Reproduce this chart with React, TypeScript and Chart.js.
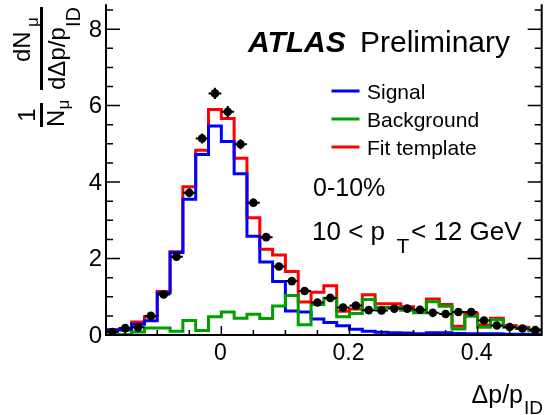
import React, { useEffect, useRef } from "react";
import { Chart, registerables } from "chart.js";

Chart.register(...registerables);

// ---------- data ----------
const binCenters = [
  -0.17, -0.15, -0.13, -0.11, -0.09, -0.07, -0.05, -0.03, -0.01, 0.01, 0.03, 0.05,
  0.07, 0.09, 0.11, 0.13, 0.15, 0.17, 0.19, 0.21, 0.23, 0.25, 0.27, 0.29, 0.31,
  0.33, 0.35, 0.37, 0.39, 0.41, 0.43, 0.45, 0.47, 0.49,
];
const binWidth = 0.02;

const signal = [
  0.13, 0.13, 0.28, 0.37, 1.1, 2.16, 3.55, 4.72, 5.47, 5.06, 4.22, 2.58, 1.91, 1.4,
  0.63, 0.6, 0.42, 0.33, 0.24, 0.15, 0.1, 0.07, 0.06, 0.05, 0.03, 0.06, 0.06, 0.04,
  0.03, 0.03, 0.03, 0.02, 0.02, 0.02,
];
const background = [
  0.0, 0.01, 0.08, 0.18, 0.18, 0.1, 0.38, 0.12, 0.48, 0.6, 0.44, 0.54, 0.43, 0.76,
  1.03, 0.27, 0.8, 0.96, 0.48, 0.56, 0.93, 0.72, 0.72, 0.65, 0.58, 0.87, 0.75, 0.16,
  0.49, 0.2, 0.4, 0.2, 0.17, 0.11,
];
const fitTemplate = [
  0.14, 0.15, 0.34, 0.48, 1.14, 2.18, 3.88, 4.83, 5.9, 5.66, 4.62, 3.07, 2.24, 2.09,
  1.66, 0.86, 1.12, 1.29, 0.62, 0.68, 1.05, 0.82, 0.82, 0.74, 0.64, 0.94, 0.8, 0.23,
  0.55, 0.26, 0.44, 0.25, 0.2, 0.14,
];
const dataValues = [
  0.08, 0.18, 0.2, 0.5, 1.06, 2.05, 3.72, 5.14, 6.32, 5.84, 4.99, 3.46, 2.56, 1.79,
  1.41, 1.15, 0.85, 0.97, 0.72, 0.77, 0.65, 0.64, 0.69, 0.69, 0.66, 0.58, 0.55, 0.6,
  0.6, 0.38, 0.25, 0.21, 0.17, 0.13,
];
const dataErrors = [
  0.03, 0.04, 0.05, 0.06, 0.08, 0.1, 0.12, 0.13, 0.15, 0.15, 0.13, 0.11, 0.1, 0.08,
  0.07, 0.07, 0.06, 0.06, 0.05, 0.05, 0.05, 0.05, 0.05, 0.05, 0.05, 0.05, 0.05, 0.05,
  0.05, 0.04, 0.04, 0.04, 0.04, 0.04,
];

const xMajorTicks = [0, 0.2, 0.4];
const xTickLabels = ["0", "0.2", "0.4"];
const xMinorTicks = [-0.15, -0.1, -0.05, 0.05, 0.1, 0.15, 0.25, 0.3, 0.35, 0.45];
const yMajorTicks = [0, 2, 4, 6, 8];
const yTickLabels = ["0", "2", "4", "6", "8"];
const yMinorTicks = [0.5, 1, 1.5, 2.5, 3, 3.5, 4.5, 5, 5.5, 6.5, 7, 7.5, 8.5];

const legendItems = [
  { label: "Signal", color: "#0000ff" },
  { label: "Background", color: "#00a000" },
  { label: "Fit template", color: "#ff0000" },
];

const FONT = '"Liberation Sans", Arial, Helvetica, sans-serif';

function stepPoints(values: number[]) {
  const pts = binCenters.map((c, i) => ({ x: c - binWidth / 2, y: values[i] }));
  const last = binCenters.length - 1;
  pts.push({ x: binCenters[last] + binWidth / 2, y: values[last] });
  return pts;
}

const decorPlugin = {
  id: "decor",
  afterDatasetsDraw(chart: any) {
    const ctx: CanvasRenderingContext2D = chart.ctx;
    const xs = chart.scales.x;
    const ys = chart.scales.y;
    // error bars
    ctx.save();
    ctx.strokeStyle = "#000";
    ctx.lineWidth = 2;
    binCenters.forEach((c, i) => {
      const px = xs.getPixelForValue(c);
      const py = ys.getPixelForValue(dataValues[i]);
      const pl = xs.getPixelForValue(c - binWidth / 2);
      const pr = xs.getPixelForValue(c + binWidth / 2);
      const pt = ys.getPixelForValue(dataValues[i] + dataErrors[i]);
      const pb = ys.getPixelForValue(dataValues[i] - dataErrors[i]);
      ctx.beginPath();
      ctx.moveTo(pl, py);
      ctx.lineTo(pr, py);
      ctx.moveTo(px, pt);
      ctx.lineTo(px, pb);
      ctx.stroke();
    });
    ctx.restore();
  },
  afterDraw(chart: any) {
    const ctx: CanvasRenderingContext2D = chart.ctx;
    const xs = chart.scales.x;
    const ys = chart.scales.y;
    const a = chart.chartArea;
    ctx.save();
    ctx.strokeStyle = "#000";
    ctx.fillStyle = "#000";
    // frame
    ctx.lineWidth = 2;
    ctx.beginPath();
    ctx.moveTo(a.left, a.top);
    ctx.lineTo(a.left, a.bottom);
    ctx.lineTo(a.right, a.bottom);
    ctx.lineTo(a.right, a.top);
    ctx.stroke();
    // ticks
    ctx.lineWidth = 1.5;
    ctx.beginPath();
    yMajorTicks.forEach((v) => {
      const p = ys.getPixelForValue(v);
      ctx.moveTo(a.left, p);
      ctx.lineTo(a.left + 14, p);
      ctx.moveTo(a.right, p);
      ctx.lineTo(a.right - 14, p);
    });
    yMinorTicks.forEach((v) => {
      const p = ys.getPixelForValue(v);
      ctx.moveTo(a.left, p);
      ctx.lineTo(a.left + 7, p);
      ctx.moveTo(a.right, p);
      ctx.lineTo(a.right - 7, p);
    });
    xMajorTicks.forEach((v) => {
      const p = xs.getPixelForValue(v);
      ctx.moveTo(p, a.bottom);
      ctx.lineTo(p, a.bottom - 9);
    });
    xMinorTicks.forEach((v) => {
      const p = xs.getPixelForValue(v);
      ctx.moveTo(p, a.bottom);
      ctx.lineTo(p, a.bottom - 5);
    });
    ctx.stroke();

    // tick labels
    ctx.font = `24px ${FONT}`;
    ctx.textAlign = "right";
    ctx.textBaseline = "middle";
    yMajorTicks.forEach((v, i) => {
      ctx.fillText(yTickLabels[i], a.left - 4, ys.getPixelForValue(v) + 1);
    });
    ctx.font = `23px ${FONT}`;
    ctx.textAlign = "center";
    ctx.textBaseline = "alphabetic";
    xMajorTicks.forEach((v, i) => {
      ctx.fillText(xTickLabels[i], xs.getPixelForValue(v) - 1, 360);
    });

    // x title
    ctx.textAlign = "right";
    ctx.font = `25px ${FONT}`;
    ctx.fillText("\u0394p/p", 523, 403);
    ctx.textAlign = "left";
    ctx.font = `19px ${FONT}`;
    ctx.fillText("ID", 524, 414);

    // y title (rotated)
    ctx.save();
    ctx.translate(41.5, 128);
    ctx.rotate(-Math.PI / 2);
    ctx.lineWidth = 3;
    ctx.beginPath();
    ctx.moveTo(1, 0);
    ctx.lineTo(25, 0);
    ctx.moveTo(38, 0);
    ctx.lineTo(121, 0);
    ctx.stroke();
    ctx.font = `24px ${FONT}`;
    ctx.textAlign = "center";
    ctx.fillText("1", 13, -7);
    ctx.textAlign = "left";
    ctx.fillText("N", 1, 22.5);
    ctx.fillText("dN", 66, -12);
    ctx.fillText("d\u0394p/p", 38, 23);
    ctx.font = `17px ${FONT}`;
    ctx.fillText("\u03bc", 18.5, 27);
    ctx.fillText("\u03bc", 101, -4);
    ctx.font = `20px ${FONT}`;
    ctx.fillText("ID", 101, 38.5);
    ctx.restore();

    // ATLAS Preliminary
    ctx.textAlign = "left";
    ctx.font = `italic bold 30px ${FONT}`;
    ctx.fillText("ATLAS", 248, 52);
    ctx.font = `30px ${FONT}`;
    ctx.fillText("Preliminary", 360, 52);

    // legend
    legendItems.forEach((it, i) => {
      const yLine = 91 + i * 28;
      ctx.strokeStyle = it.color;
      ctx.lineWidth = 3;
      ctx.beginPath();
      ctx.moveTo(331.5, yLine);
      ctx.lineTo(359.5, yLine);
      ctx.stroke();
      ctx.fillStyle = "#000";
      ctx.font = `21px ${FONT}`;
      ctx.fillText(it.label, 367, yLine + 7.5);
    });

    // labels
    ctx.font = `25px ${FONT}`;
    ctx.fillText("0-10%", 313, 196);
    ctx.font = `26px ${FONT}`;
    ctx.fillText("10 < p", 312, 239.5);
    ctx.fillText("< 12 GeV", 411, 239.5);
    ctx.font = `21px ${FONT}`;
    ctx.fillText("T", 396.5, 253);

    ctx.restore();
  },
};

export default function App() {
  const ref = useRef<HTMLCanvasElement>(null);
  useEffect(() => {
    document.body.style.margin = "0";
    const histo = (label: string, values: number[], color: string, order: number) => ({
      label,
      data: stepPoints(values),
      borderColor: color,
      backgroundColor: color,
      borderWidth: 3,
      stepped: true,
      pointRadius: 0,
      fill: false,
      borderJoinStyle: "miter",
      borderCapStyle: "butt",
      order,
    });
    const chart = new Chart(ref.current as HTMLCanvasElement, {
      type: "line",
      data: {
        datasets: [
          {
            label: "Data",
            data: binCenters.map((x, i) => ({ x, y: dataValues[i] })),
            showLine: false,
            pointRadius: 4.3,
            pointBackgroundColor: "#000",
            pointBorderWidth: 0,
            borderColor: "#000",
            order: 0,
          } as any,
          histo("Background", background, "#00a000", 1),
          histo("Signal", signal, "#0000ff", 2),
          histo("Fit template", fitTemplate, "#ff0000", 3),
        ],
      },
      options: {
        responsive: false,
        animation: false,
        devicePixelRatio: 1,
        events: [],
        layout: { padding: { left: 106, right: 1, top: 1, bottom: 80 } },
        plugins: { legend: { display: false }, tooltip: { enabled: false } },
        scales: {
          x: { type: "linear", min: -0.18, max: 0.5, display: false },
          y: { type: "linear", min: 0, max: 8.65, display: false },
        },
      } as any,
      plugins: [decorPlugin],
    });
    return () => chart.destroy();
  }, []);
  return (
    <div style={{ position: "absolute", left: 0, top: 0, width: 546, height: 415, background: "#fff" }}>
      <canvas ref={ref} width={546} height={415} style={{ display: "block", width: 546, height: 415 }} />
    </div>
  );
}
